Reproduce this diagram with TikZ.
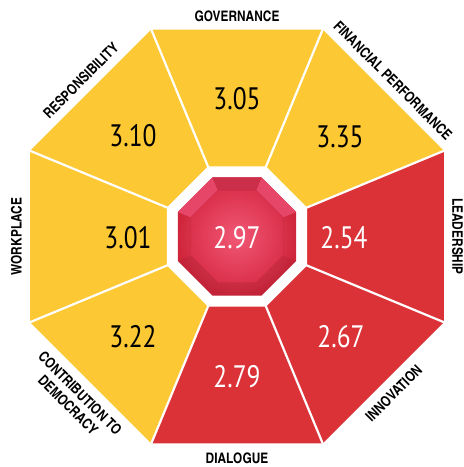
\documentclass[tikz,border=0pt]{standalone}
\usepackage{fontspec}
\newfontfamily\scorefont[FakeStretch=0.82]{PT Sans}
\newfontfamily\labelfont{texgyreheroscn-bold}[Extension=.otf]
\definecolor{sectoryellow}{RGB}{252,200,52}
\definecolor{sectorred}{RGB}{219,50,56}
\definecolor{gemrim}{RGB}{208,38,60}
\definecolor{gempink}{RGB}{240,88,116}
\definecolor{gemfacet}{RGB}{230,70,104}
\definecolor{gemtable}{RGB}{220,50,78}

\tikzset{
  score/.style={font=\scorefont\fontsize{31}{31}\selectfont, inner sep=0pt},
  darkscore/.style={score, text=black},
  lightscore/.style={score, text=white},
  outlabel/.style={font=\labelfont\fontsize{14.5}{17}\selectfont, inner sep=0pt, align=center, anchor=south},
  inlabel/.style={outlabel, anchor=north},
  divider/.style={white, line width=2.2pt},
}

\begin{document}
\begin{tikzpicture}[%
    x=1pt, y=1pt,
    ]
    \useasboundingbox (-237,-230.5) rectangle (227,236.5);
    % sectors
    \fill[sectoryellow] (0,0) -- (67.5:224) -- (112.5:224) -- cycle;
    \fill[sectoryellow] (0,0) -- (22.5:224) -- (67.5:224) -- cycle;
    \fill[sectorred] (0,0) -- (-22.5:224) -- (22.5:224) -- cycle;
    \fill[sectorred] (0,0) -- (-67.5:224) -- (-22.5:224) -- cycle;
    \fill[sectorred] (0,0) -- (-112.5:224) -- (-67.5:224) -- cycle;
    \fill[sectoryellow] (0,0) -- (-157.5:224) -- (-112.5:224) -- cycle;
    \fill[sectoryellow] (0,0) -- (157.5:224) -- (202.5:224) -- cycle;
    \fill[sectoryellow] (0,0) -- (112.5:224) -- (157.5:224) -- cycle;
    \draw[divider] (22.5:75) -- (22.5:224);
    \draw[divider] (67.5:75) -- (67.5:224);
    \draw[divider] (112.5:75) -- (112.5:224);
    \draw[divider] (157.5:75) -- (157.5:224);
    \draw[divider] (202.5:75) -- (202.5:224);
    \draw[divider] (247.5:75) -- (247.5:224);
    \draw[divider] (292.5:75) -- (292.5:224);
    \draw[divider] (337.5:75) -- (337.5:224);
    % white ring and gem
    \fill[white] (22.5:75.8) -- (67.5:75.8) -- (112.5:75.8) -- (157.5:75.8) -- (202.5:75.8) -- (247.5:75.8) -- (292.5:75.8) -- (337.5:75.8) -- cycle;
    \shade[inner color=gempink, outer color=gemrim] (22.5:64) -- (67.5:64) -- (112.5:64) -- (157.5:64) -- (202.5:64) -- (247.5:64) -- (292.5:64) -- (337.5:64) -- cycle;
    \fill[gemfacet] (22.5:64) -- (67.5:64) -- (67.5:50) -- (22.5:50) -- cycle;
    \fill[gemfacet] (112.5:64) -- (157.5:64) -- (157.5:50) -- (112.5:50) -- cycle;
    \fill[gemtable!92!black] (67.5:64) -- (112.5:64) -- (112.5:50) -- (67.5:50) -- cycle;
    \fill[black, opacity=0.06] (202.5:64) -- (247.5:64) -- (292.5:64) -- (337.5:64) -- (337.5:50) -- (292.5:50) -- (247.5:50) -- (202.5:50) -- cycle;
    \shade[inner color=gempink, outer color=gemtable] (22.5:50) -- (67.5:50) -- (112.5:50) -- (157.5:50) -- (202.5:50) -- (247.5:50) -- (292.5:50) -- (337.5:50) -- cycle;
    \draw[gemrim!80!black, opacity=0.25, line width=0.6pt] (22.5:50) -- (67.5:50) -- (112.5:50) -- (157.5:50) -- (202.5:50) -- (247.5:50) -- (292.5:50) -- (337.5:50) -- cycle;
    % scores
    \node[lightscore] (overall) at (0,-1) {2.97};
    \node[darkscore] (governance) at (0,138) {3.05};
    \node[darkscore] (financial) at (103,99.5) {3.35};
    \node[lightscore] (leadership) at (107,-1) {2.54};
    \node[lightscore] (innovation) at (104,-100.5) {2.67};
    \node[lightscore] (dialogue) at (0,-140) {2.79};
    \node[darkscore] (democracy) at (-104,-100.5) {3.22};
    \node[darkscore] (workplace) at (-109,-1) {3.01};
    \node[darkscore] (responsibility) at (-104,100.5) {3.10};
    % labels
    \node[outlabel] (governance label) at (90:215) {GOVERNANCE};
    \node[outlabel, rotate=-45] (financial label) at (45:215) {FINANCIAL PERFORMANCE};
    \node[outlabel, rotate=-90] (leadership label) at (0:215) {LEADERSHIP};
    \node[inlabel, rotate=45] (innovation label) at (-45:216) {INNOVATION};
    \node[inlabel] (dialogue label) at (-90:216) {DIALOGUE};
    \node[inlabel, rotate=-45] (democracy label) at (-135:216) {CONTRIBUTION TO\\DEMOCRACY};
    \node[outlabel, rotate=90] (workplace label) at (180:215) {WORKPLACE};
    \node[outlabel, rotate=45] (responsibility label) at (135:215) {RESPONSIBILITY};
    \end{tikzpicture}
\end{document}
